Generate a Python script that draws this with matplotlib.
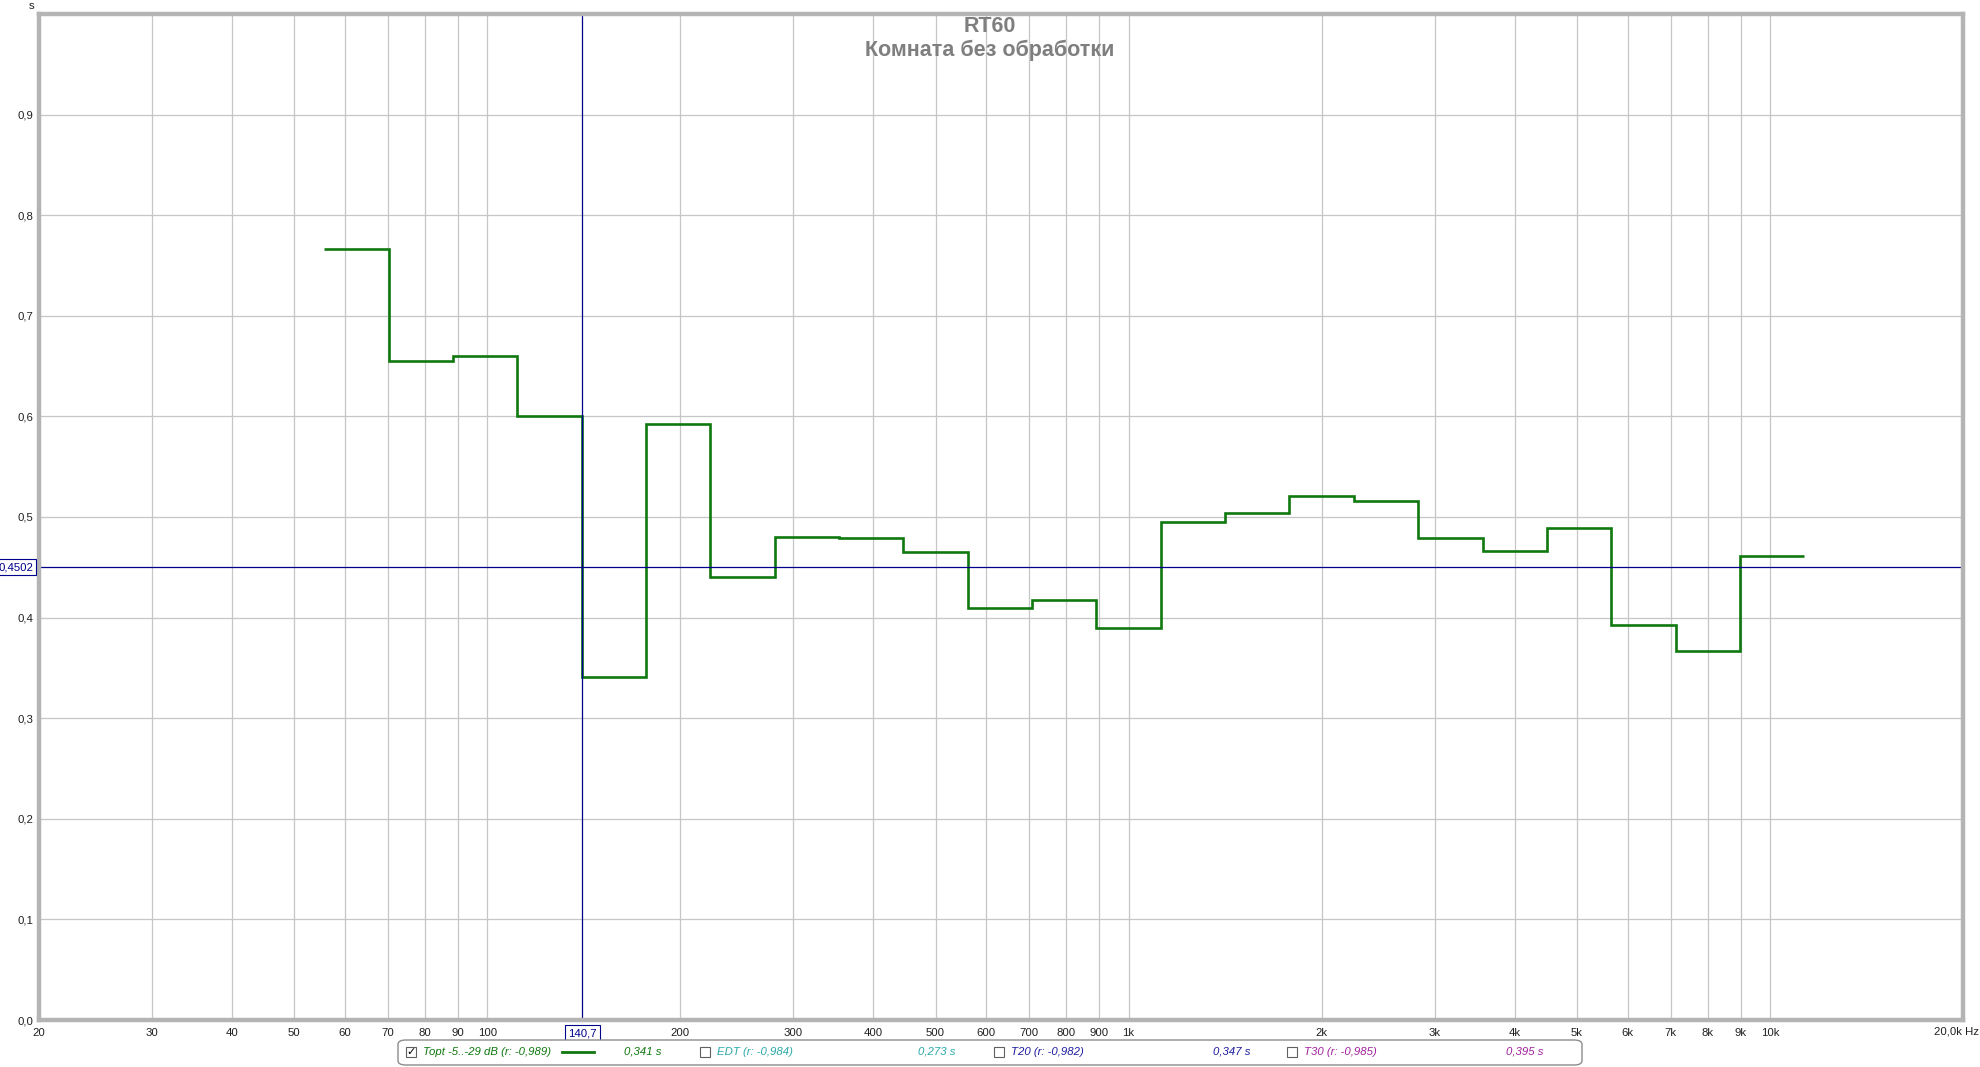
import numpy as np
import matplotlib
matplotlib.use("Agg")
import matplotlib.pyplot as plt
from matplotlib.patches import FancyBboxPatch, Rectangle

W, H = 1981, 1067

# 1/3 octave band centres (Hz) and Topt RT60 values (s)
bands = [63, 80, 100, 125, 160, 200, 250, 315, 400, 500, 630, 800,
         1000, 1250, 1600, 2000, 2500, 3150, 4000, 5000, 6300, 8000, 10000]
rt60 = [0.766, 0.655, 0.660, 0.600, 0.341, 0.592, 0.440, 0.480, 0.479, 0.465, 0.410, 0.417,
        0.390, 0.495, 0.504, 0.521, 0.516, 0.479, 0.466, 0.489, 0.393, 0.367, 0.461]

x_ticks = [20, 30, 40, 50, 60, 70, 80, 90, 100, 200, 300, 400, 500, 600, 700, 800, 900,
           1000, 2000, 3000, 4000, 5000, 6000, 7000, 8000, 9000, 10000, 20000]
x_labels = ["20", "30", "40", "50", "60", "70", "80", "90", "100", "200", "300", "400", "500",
            "600", "700", "800", "900", "1k", "2k", "3k", "4k", "5k", "6k", "7k", "8k", "9k",
            "10k", ""]
x_last_label = "20,0k Hz"
y_ticks = [0.0, 0.1, 0.2, 0.3, 0.4, 0.5, 0.6, 0.7, 0.8, 0.9]
y_labels = ["0,0", "0,1", "0,2", "0,3", "0,4", "0,5", "0,6", "0,7", "0,8", "0,9"]

cursor_f = 140.7
cursor_t = 0.4502

legend_names = ["Topt -5..-29 dB (r: -0,989)", "EDT (r: -0,984)", "T20 (r: -0,982)", "T30 (r: -0,985)"]
legend_vals = ["0,341 s", "0,273 s", "0,347 s", "0,395 s"]
legend_cols = ["#0f780f", "#2aa8a8", "#1c1ca0", "#a0209c"]
legend_on = [True, False, False, False]

GREEN = "#0f780f"
CURSOR = "#00008c"
GRID = "#c6c6c6"
FS = 8.2
plt.rcParams["font.family"] = ["Liberation Sans", "DejaVu Sans"]


def fx(px):
    return px / W


def fy(py):
    return 1 - py / H


fig = plt.figure(figsize=(W / 100, H / 100), dpi=100)
left, right, top, bottom = 39, 1963, 14, 1020
ax = fig.add_axes([fx(left), fy(bottom), fx(right - left), (bottom - top) / H])

# band edges from base-2 third-octave centres
n = np.round(3 * np.log2(np.array(bands) / 1000.0))
edges = 1000.0 * 2 ** (np.append(n - 0.5, n[-1] + 0.5) / 3)
ax.stairs(rt60, edges, color=GREEN, lw=1.9, baseline=None)

ax.set_xscale("log")
ax.set_xlim(20, 20000)
ax.set_ylim(0, 1.0)
ax.set_xticks(x_ticks)
ax.set_xticklabels(x_labels)
ax.xaxis.set_minor_locator(matplotlib.ticker.NullLocator())
ax.set_yticks(y_ticks)
ax.set_yticklabels(y_labels)
ax.tick_params(length=0, labelsize=FS, colors="#202020", pad=4)
ax.tick_params(axis="x", pad=6)
ax.grid(True, color=GRID, lw=0.9)
ax.set_axisbelow(True)
for s in ax.spines.values():
    s.set_color("#b4b4b4")
    s.set_linewidth(3.2)

fig.text(fx(1979), fy(1031), x_last_label, fontsize=FS, ha="right", va="center", color="#202020")

# cursors
ax.axvline(cursor_f, color=CURSOR, lw=0.9)
ax.axhline(cursor_t, color=CURSOR, lw=0.9)
ax.annotate("140,7", xy=(cursor_f, 0), xycoords=("data", "axes fraction"),
            xytext=(0, -9.5), textcoords="offset points", ha="center", va="center",
            fontsize=FS, color=CURSOR,
            bbox=dict(boxstyle="square,pad=0.25", fc="white", ec=CURSOR, lw=0.8))
ax.annotate("0,4502", xy=(0, cursor_t), xycoords=("axes fraction", "data"),
            xytext=(-4, 0), textcoords="offset points", ha="right", va="center",
            fontsize=FS, color=CURSOR,
            bbox=dict(boxstyle="square,pad=0.25", fc="white", ec=CURSOR, lw=0.8))

fig.text(fx(32), fy(6), "s", fontsize=FS, ha="center", va="center", color="#202020")

# titles
fig.text(fx(990), fy(26), "RT60", fontsize=15.5, fontweight="bold", color="#7f7f7f",
         ha="center", va="center")
fig.text(fx(990), fy(50), "Комната без обработки", fontsize=15.5, fontweight="bold",
         color="#7f7f7f", ha="center", va="center")

# legend bar
box = FancyBboxPatch((fx(398), fy(1065)), fx(1582 - 398), (1065 - 1040) / H,
                     boxstyle="round,pad=0,rounding_size=0.004", transform=fig.transFigure,
                     fc="white", ec="#8c8c8c", lw=1.0)
fig.patches.append(box)
ly = fy(1052)
item_x = [411, 705, 999, 1292]
val_x = [643, 937, 1232, 1525]
for i in range(4):
    cx = item_x[i]
    fig.patches.append(Rectangle((fx(cx - 5), ly - 5 / H), fx(10), 10 / H,
                                 transform=fig.transFigure, fc="white", ec="#606060", lw=0.8))
    if legend_on[i]:
        fig.text(fx(cx), ly, "\u2713", fontsize=8, ha="center", va="center",
                 color="black", family="DejaVu Sans", fontweight="bold")
    fig.text(fx(cx + 12), ly, legend_names[i], fontsize=FS, style="italic",
             color=legend_cols[i], ha="left", va="center")
    fig.text(fx(val_x[i]), ly, legend_vals[i], fontsize=FS, style="italic",
             color=legend_cols[i], ha="center", va="center")
fig.add_artist(matplotlib.lines.Line2D([fx(562), fx(594)], [ly, ly], color=GREEN, lw=2,
                                       transform=fig.transFigure))

fig.savefig("out.png", dpi=100)
